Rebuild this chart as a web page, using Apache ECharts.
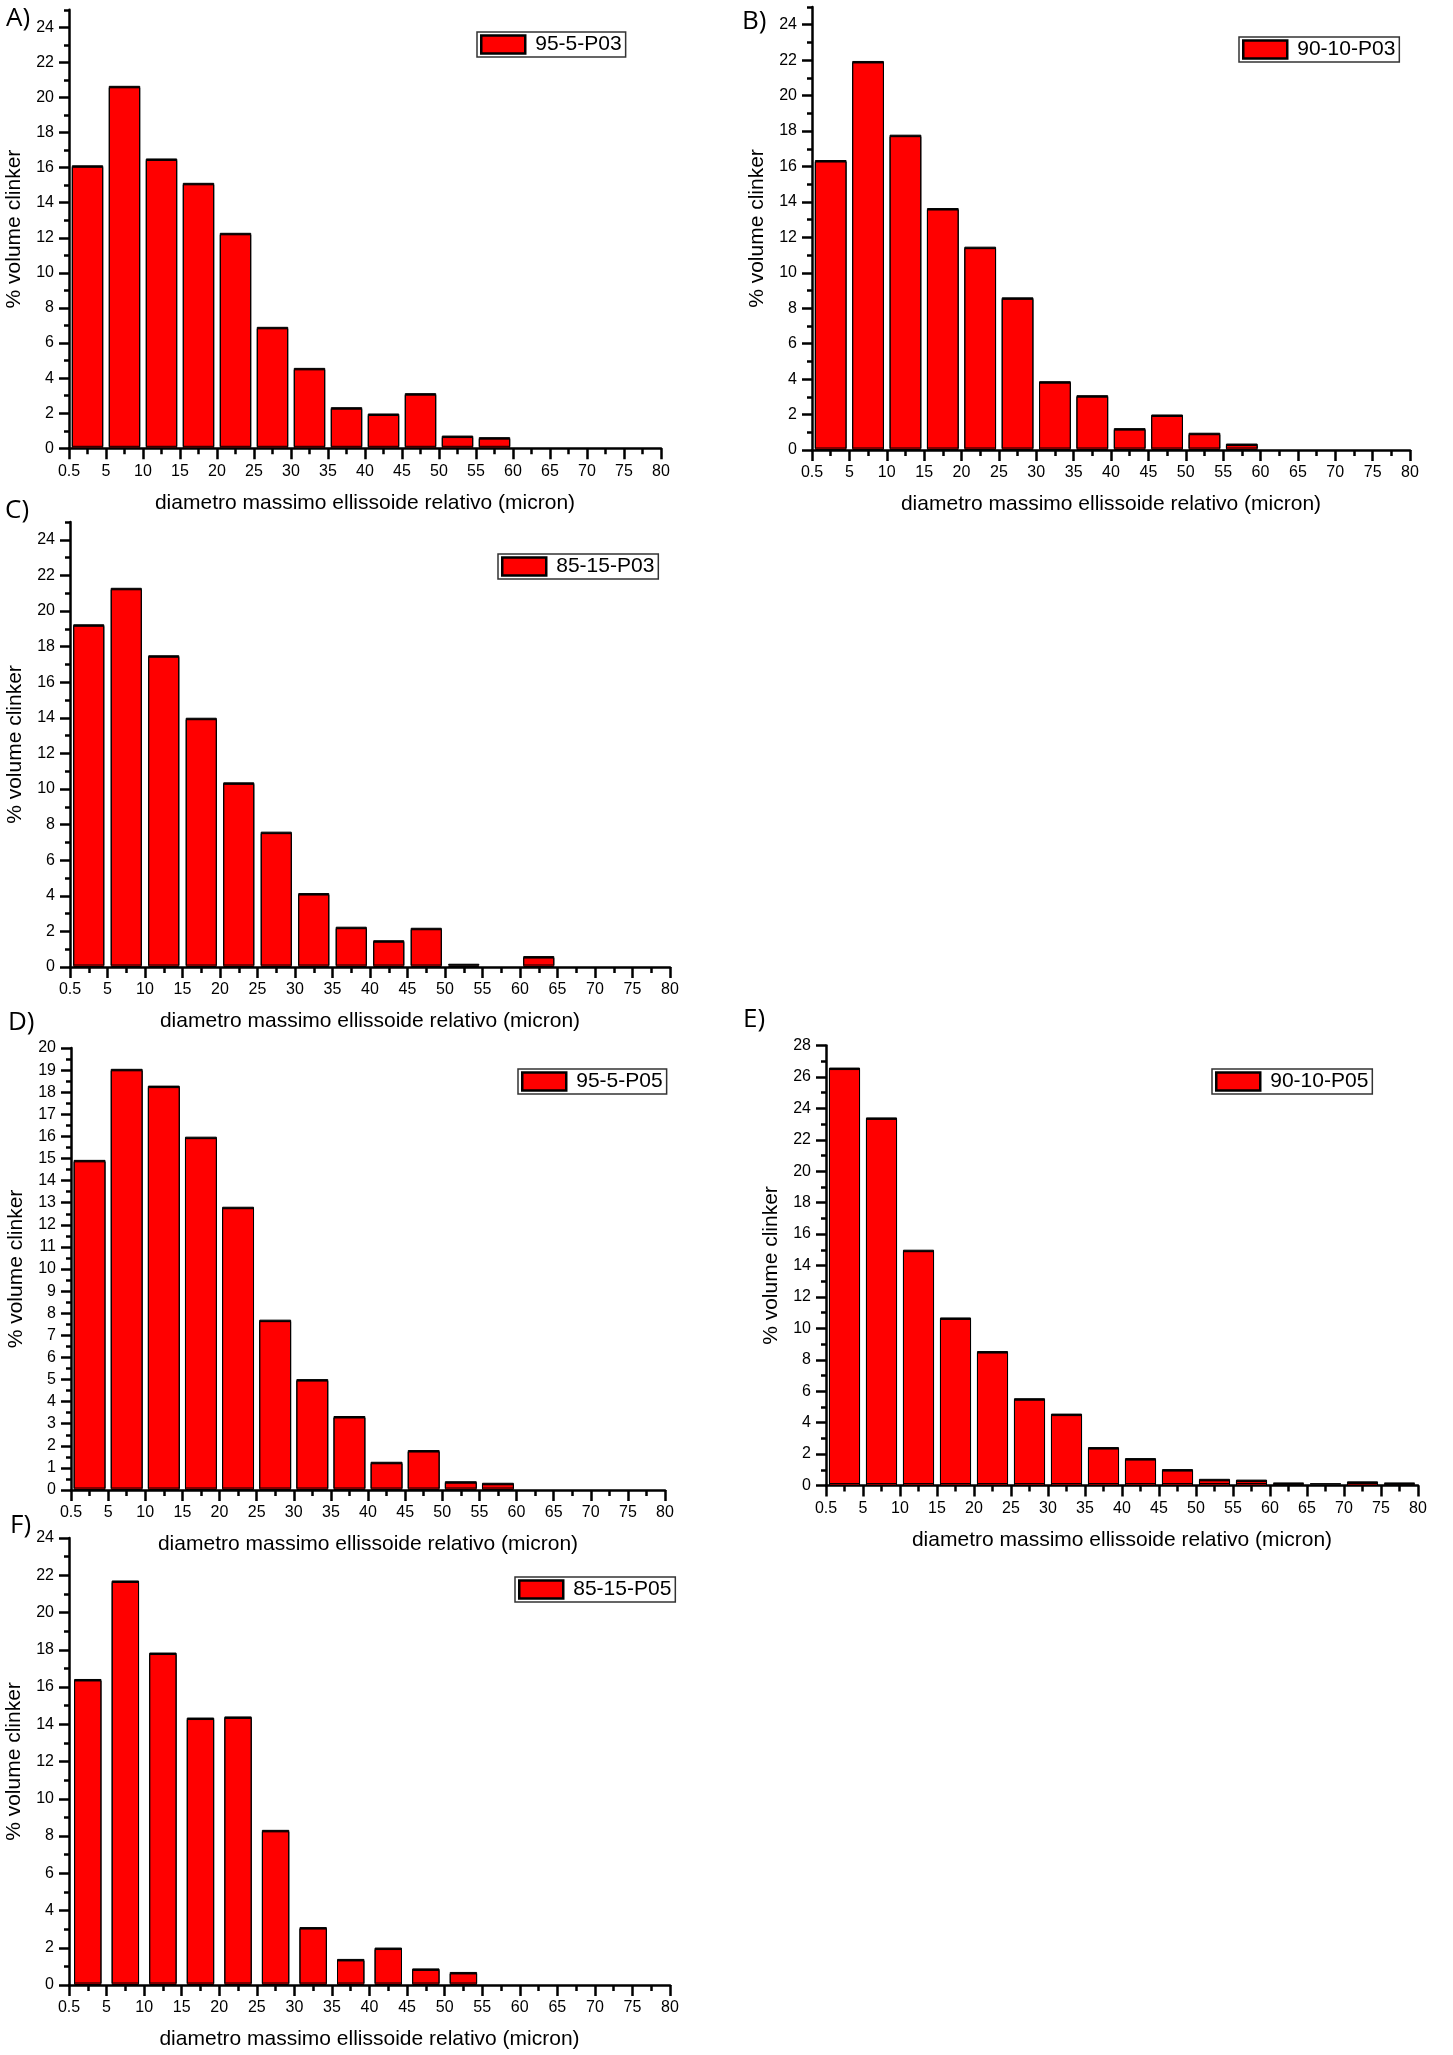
<!DOCTYPE html>
<html><head><meta charset="utf-8">
<script src="https://cdn.jsdelivr.net/npm/echarts@6/dist/echarts.min.js"></script>
<style>html,body{margin:0;padding:0;background:#fff}#c{width:1453px;height:2055px}</style>
</head><body><div id="c"></div>
<script>
// ---- data ----
const xTickLabels = ['0.5','5','10','15','20','25','30','35','40','45','50','55','60','65','70','75','80'];
const binPos = [0.5,1.5,2.5,3.5,4.5,5.5,6.5,7.5,8.5,9.5,10.5,11.5,12.5,13.5,14.5,15.5];
const panelLetters = ['A)','B)','C)','D)','E)','F)'];
const seriesNames = ['95-5-P03','90-10-P03','85-15-P03','95-5-P05','90-10-P05','85-15-P05'];
const valuesA = [16.05,20.58,16.44,15.05,12.2,6.84,4.5,2.26,1.9,3.06,0.64,0.55,0,0,0,0];
const valuesB = [16.28,21.87,17.71,13.57,11.39,8.53,3.8,3.01,1.15,1.92,0.89,0.28,0,0,0,0];
const valuesC = [19.17,21.22,17.43,13.92,10.29,7.52,4.07,2.18,1.42,2.12,0.1,0,0.53,0,0,0];
const valuesD = [14.87,18.99,18.23,15.92,12.75,7.64,4.95,3.28,1.21,1.74,0.33,0.26,0,0,0,0];
const valuesE = [26.5,23.33,14.91,10.6,8.46,5.46,4.48,2.35,1.65,0.95,0.33,0.28,0.1,0.03,0.17,0.1];
const valuesF = [16.35,21.64,17.77,14.28,14.34,8.25,3.03,1.32,1.93,0.81,0.62,0,0,0,0,0];
const yMajorEven24 = [0,2,4,6,8,10,12,14,16,18,20,22,24];
const yMinorOdd25 = [1,3,5,7,9,11,13,15,17,19,21,23,25];
const yMinorOdd23 = [1,3,5,7,9,11,13,15,17,19,21,23];
const yMajorEven28 = [0,2,4,6,8,10,12,14,16,18,20,22,24,26,28];
const yMinorOdd27 = [1,3,5,7,9,11,13,15,17,19,21,23,25,27];
const yMajorInt20 = [0,1,2,3,4,5,6,7,8,9,10,11,12,13,14,15,16,17,18,19,20];
const yMinorHalf20 = [0.5,1.5,2.5,3.5,4.5,5.5,6.5,7.5,8.5,9.5,10.5,11.5,12.5,13.5,14.5,15.5,16.5,17.5,18.5,19.5];
const xAxisTitle = 'diametro massimo ellissoide relativo (micron)';
const yAxisTitle = '% volume clinker';

// ---- layout / style ----
const FONT = 'Liberation Sans, Arial, sans-serif';
const panels = [
  {vals: valuesA, yMax: 25, major: yMajorEven24, minor: yMinorOdd25, grid:{left:69, top:9.8, width:592, height:438.5}, bar:0.85, legend:{left:477, top:32}, letter:{left:6, top:6}},
  {vals: valuesB, yMax: 25, major: yMajorEven24, minor: yMinorOdd25, grid:{left:812, top:7, width:598, height:443}, bar:0.85, legend:{left:1239, top:37}, letter:{left:742, top:9}},
  {vals: valuesC, yMax: 25, major: yMajorEven24, minor: yMinorOdd25, grid:{left:70, top:522, width:600, height:445}, bar:0.83, legend:{left:498, top:554}, letter:{left:5, top:498}},
  {vals: valuesD, yMax: 20, major: yMajorInt20, minor: yMinorHalf20, grid:{left:71, top:1048, width:594, height:442}, bar:0.86, legend:{left:518, top:1069}, letter:{left:8, top:1010}},
  {vals: valuesE, yMax: 28, major: yMajorEven28, minor: yMinorOdd27, grid:{left:826, top:1045.5, width:592, height:440}, bar:0.84, legend:{left:1212, top:1069}, letter:{left:743, top:1007}},
  {vals: valuesF, yMax: 24, major: yMajorEven24, minor: yMinorOdd23, grid:{left:69, top:1538, width:601, height:447}, bar:0.73, legend:{left:515, top:1577}, letter:{left:10, top:1513}}
];

const grid = [], xAxis = [], yAxis = [], series = [], legend = [], title = [];
panels.forEach((p, i) => {
  grid.push(Object.assign({containLabel:false}, p.grid));
  xAxis.push({
    type:'value', gridIndex:i, min:0, max:16, interval:1,
    name: xAxisTitle, nameLocation:'middle', nameGap:44,
    nameTextStyle:{fontSize:21, color:'#000', fontFamily:FONT},
    axisLine:{show:true, onZero:false, lineStyle:{color:'#000', width:2.5}},
    axisTick:{show:true, length:11, lineStyle:{color:'#000', width:2.5}},
    minorTick:{show:true, splitNumber:2, length:6, lineStyle:{color:'#000', width:2.5}},
    splitLine:{show:false}, minorSplitLine:{show:false},
    axisLabel:{fontSize:16, color:'#000', fontFamily:FONT, margin:15,
      formatter:(v)=> xTickLabels[Math.round(v)] ?? ''}
  });
  yAxis.push({
    type:'value', gridIndex:i, min:0, max:p.yMax, position:'left',
    name: yAxisTitle, nameLocation:'middle', nameGap:44, nameRotate:90,
    nameTextStyle:{fontSize:21, color:'#000', fontFamily:FONT},
    axisLine:{show:true, onZero:false, lineStyle:{color:'#000', width:2.5}},
    axisTick:{show:true, length:10, customValues:p.major, lineStyle:{color:'#000', width:2.5}},
    axisLabel:{fontSize:16, color:'#000', fontFamily:FONT, margin:15, customValues:p.major},
    splitLine:{show:false}
  });
  yAxis.push({
    type:'value', gridIndex:i, min:0, max:p.yMax, position:'left', offset:0,
    axisLine:{show:false},
    axisTick:{show:true, length:5, customValues:p.minor, lineStyle:{color:'#000', width:2.5}},
    axisLabel:{show:false}, splitLine:{show:false}
  });
  const bw = p.grid.width / 16 * p.bar;
  series.push({
    type:'bar', name: seriesNames[i], xAxisIndex:i, yAxisIndex:2*i,
    barWidth: bw,
    data: p.vals.map((v, k) => v === 0
      ? {value:[binPos[k], v], itemStyle:{borderWidth:0, shadowColor:'rgba(0,0,0,0)'}}
      : {value:[binPos[k], v]}),
    itemStyle:{color:'#ff0000', borderColor:'#000', borderWidth:1,
      shadowColor:'#000', shadowBlur:0, shadowOffsetX:0, shadowOffsetY:-1.5},
    z:1
  });
  legend.push({
    data:[seriesNames[i]], left:p.legend.left, top:p.legend.top, orient:'horizontal',
    icon:'rect', itemWidth:44, itemHeight:18,
    padding:[2,4,2,3], borderColor:'#333', borderWidth:1.5, backgroundColor:'#fff',
    itemStyle:{borderColor:'#000', borderWidth:2.5, shadowColor:'rgba(0,0,0,0)', shadowBlur:0, shadowOffsetY:0},
    textStyle:{fontSize:21, color:'#000', fontFamily:FONT, padding:[0,0,0,5]},
    selectedMode:false
  });
  title.push({
    text: panelLetters[i], left:p.letter.left, top:p.letter.top, padding:0,
    textStyle:{fontSize:26, fontWeight:'normal', color:'#000', fontFamily:'Open Sans, Liberation Sans, sans-serif'}
  });
});

const chart = echarts.init(document.getElementById('c'), null, {renderer:'canvas'});
chart.setOption({
  animation:false, backgroundColor:'#fff',
  title, grid, xAxis, yAxis, series, legend
});
</script>
</body></html>
